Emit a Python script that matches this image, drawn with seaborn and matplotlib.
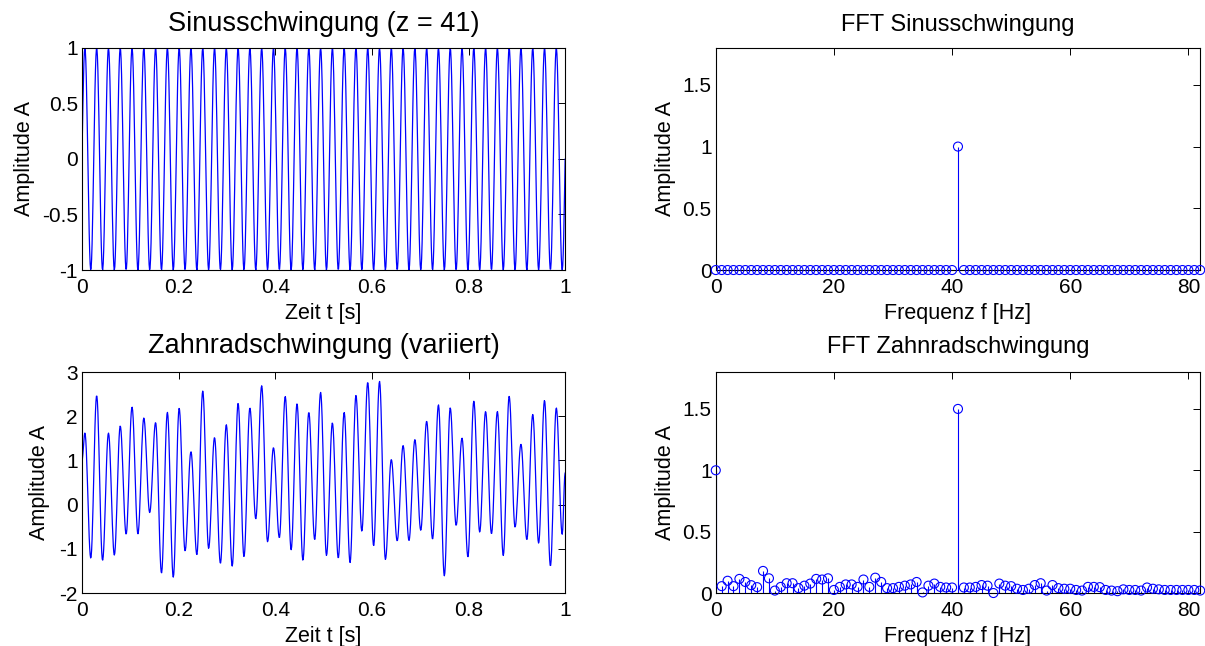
import numpy as np
import pandas as pd
import matplotlib
matplotlib.use("Agg")
import matplotlib.pyplot as plt
import seaborn as sns

# ---------------------------------------------------------------------------
# Signal data
# ---------------------------------------------------------------------------
SINE_FREQ = 41          # mesh frequency z [Hz]
SINE_AMP = 1.0

# Gear vibration: value at start/end and the extremes of every mesh cycle
GEAR_START = 1.0
GEAR_END = 0.72
GEAR_PEAKS = [1.62, 2.47, 1.62, 1.78, 2.21, 1.96, 1.86, 2.09, 2.18, 1.20,
              2.57, 1.52, 1.81, 2.29, 2.19, 2.69, 1.29, 2.45, 2.28, 2.09,
              2.54, 1.85, 2.09, 2.47, 2.77, 2.79, 1.02, 1.34, 1.47, 1.89,
              2.26, 2.19, 1.51, 2.34, 2.11, 2.11, 2.45, 1.37, 2.04, 2.36,
              2.19]
GEAR_TROUGHS = [-1.21, -1.26, -1.14, -0.67, -0.66, -0.18, -1.55, -1.64, -1.05, -1.13,
                -0.99, -1.33, -1.39, -1.18, -0.32, -0.84, -0.75, -1.02, -1.26, -0.79,
                -1.15, -1.21, -1.31, -0.60, -0.93, -1.24, -0.82, -0.81, -0.58, -0.78,
                -1.61, -0.47, -1.18, -0.62, -0.66, -1.15, -0.51, -0.79, -0.87, -1.39,
                -0.67]

# Single-sided amplitude spectra, 1 Hz resolution, 0 ... 82 Hz
FREQS = list(range(0, 83))
FFT_SINE = [0.0, 0.0, 0.0, 0.0, 0.0, 0.0, 0.0, 0.0, 0.0, 0.0,
            0.0, 0.0, 0.0, 0.0, 0.0, 0.0, 0.0, 0.0, 0.0, 0.0,
            0.0, 0.0, 0.0, 0.0, 0.0, 0.0, 0.0, 0.0, 0.0, 0.0,
            0.0, 0.0, 0.0, 0.0, 0.0, 0.0, 0.0, 0.0, 0.0, 0.0,
            0.0, 1.0, 0.0, 0.0, 0.0, 0.0, 0.0, 0.0, 0.0, 0.0,
            0.0, 0.0, 0.0, 0.0, 0.0, 0.0, 0.0, 0.0, 0.0, 0.0,
            0.0, 0.0, 0.0, 0.0, 0.0, 0.0, 0.0, 0.0, 0.0, 0.0,
            0.0, 0.0, 0.0, 0.0, 0.0, 0.0, 0.0, 0.0, 0.0, 0.0,
            0.0, 0.0, 0.0]
FFT_GEAR = [1.0, 0.056, 0.10, 0.056, 0.115, 0.09, 0.064, 0.048, 0.18, 0.12,
            0.02, 0.05, 0.08, 0.08, 0.04, 0.06, 0.077, 0.115, 0.11, 0.12,
            0.025, 0.05, 0.07, 0.07, 0.05, 0.11, 0.05, 0.125, 0.09, 0.04,
            0.04, 0.05, 0.06, 0.07, 0.09, 0.005, 0.06, 0.077, 0.05, 0.045,
            0.045, 1.5, 0.045, 0.045, 0.05, 0.065, 0.06, 0.0, 0.077, 0.06,
            0.056, 0.035, 0.025, 0.035, 0.065, 0.08, 0.02, 0.065, 0.04, 0.035,
            0.035, 0.025, 0.02, 0.05, 0.05, 0.048, 0.025, 0.02, 0.015, 0.03,
            0.025, 0.025, 0.02, 0.045, 0.035, 0.03, 0.025, 0.025, 0.025, 0.025,
            0.025, 0.025, 0.02]

# Axis ticks
TIME_TICKS = [0, 0.2, 0.4, 0.6, 0.8, 1]
TIME_LABELS = ["0", "0.2", "0.4", "0.6", "0.8", "1"]
SINE_YTICKS = [-1, -0.5, 0, 0.5, 1]
SINE_YLABELS = ["-1", "-0.5", "0", "0.5", "1"]
GEAR_YTICKS = [-2, -1, 0, 1, 2, 3]
GEAR_YLABELS = ["-2", "-1", "0", "1", "2", "3"]
FREQ_TICKS = [0, 20, 40, 60, 80]
FREQ_LABELS = ["0", "20", "40", "60", "80"]
AMP_TICKS = [0, 0.5, 1, 1.5]
AMP_LABELS = ["0", "0.5", "1", "1.5"]

# ---------------------------------------------------------------------------
# Time signals
# ---------------------------------------------------------------------------
t = np.linspace(0.0, 1.0, 1001)
sine = SINE_AMP * np.sin(2 * np.pi * SINE_FREQ * t)

# knots: start, peak/trough of every cycle, end; half-cosine between extremes
knot_t = [0.0]
knot_v = [GEAR_START]
for k, (p, q) in enumerate(zip(GEAR_PEAKS, GEAR_TROUGHS)):
    knot_t += [(k + 0.25) / SINE_FREQ, (k + 0.75) / SINE_FREQ]
    knot_v += [p, q]
knot_t.append(1.0)
knot_v.append(GEAR_END)
knot_t = np.array(knot_t)
knot_v = np.array(knot_v)
seg = np.clip(np.searchsorted(knot_t, t, side="right") - 1, 0, len(knot_t) - 2)
s = (t - knot_t[seg]) / (knot_t[seg + 1] - knot_t[seg])
gear = knot_v[seg] + (knot_v[seg + 1] - knot_v[seg]) * (1 - np.cos(np.pi * s)) / 2

df_sine = pd.DataFrame({"t": t, "A": sine})
df_gear = pd.DataFrame({"t": t, "A": gear})
df_fft = pd.DataFrame({"f": FREQS, "sine": FFT_SINE, "gear": FFT_GEAR})

# ---------------------------------------------------------------------------
# Figure
# ---------------------------------------------------------------------------
sns.set_theme(style="white")
plt.rcParams["font.family"] = ["Liberation Sans", "DejaVu Sans"]
plt.rcParams["axes.unicode_minus"] = False
plt.rcParams["text.color"] = "black"
plt.rcParams["axes.labelcolor"] = "black"
plt.rcParams["axes.titlecolor"] = "black"

BLUE = "#0000ff"
FS_TICK = 15
FS_LABEL = 15.5
FS_TITLE_L = 19.5
FS_TITLE_R = 17

fig = plt.figure(figsize=(12.05, 6.46), dpi=100)
ax_sine = fig.add_axes([0.068, 0.582, 0.401, 0.344])
ax_fsine = fig.add_axes([0.594, 0.582, 0.402, 0.344])
ax_gear = fig.add_axes([0.068, 0.082, 0.401, 0.342])
ax_fgear = fig.add_axes([0.594, 0.082, 0.402, 0.342])


def style_axes(ax, xticks, xlabels, yticks, ylabels):
    ax.set_xticks(xticks)
    ax.set_xticklabels(xlabels)
    ax.set_yticks(yticks)
    ax.set_yticklabels(ylabels)
    ax.tick_params(direction="in", top=True, right=True, length=5, width=0.7,
                   color="black", labelsize=FS_TICK, labelcolor="black")
    ax.tick_params(axis="x", pad=6)
    ax.tick_params(axis="y", pad=3)
    for sp in ax.spines.values():
        sp.set_color("black")
        sp.set_linewidth(0.8)
        sp.set_visible(True)
    ax.set_facecolor("white")


# Time plots
sns.lineplot(data=df_sine, x="t", y="A", ax=ax_sine, color=BLUE, lw=0.9,
             estimator=None, sort=False)
ax_sine.set_xlim(0, 1)
ax_sine.set_ylim(-1, 1)
style_axes(ax_sine, TIME_TICKS, TIME_LABELS, SINE_YTICKS, SINE_YLABELS)
ax_sine.set_title("Sinusschwingung (z = 41)", fontsize=FS_TITLE_L, pad=12)
ax_sine.set_xlabel("Zeit t [s]", fontsize=FS_LABEL, labelpad=4)
ax_sine.set_ylabel("Amplitude A", fontsize=FS_LABEL, labelpad=5)

sns.lineplot(data=df_gear, x="t", y="A", ax=ax_gear, color=BLUE, lw=0.9,
             estimator=None, sort=False)
ax_gear.set_xlim(0, 1)
ax_gear.set_ylim(-2, 3)
style_axes(ax_gear, TIME_TICKS, TIME_LABELS, GEAR_YTICKS, GEAR_YLABELS)
ax_gear.set_title("Zahnradschwingung (variiert)", fontsize=FS_TITLE_L, pad=13.5)
ax_gear.set_xlabel("Zeit t [s]", fontsize=FS_LABEL, labelpad=4)
ax_gear.set_ylabel("Amplitude A", fontsize=FS_LABEL, labelpad=7)


# Spectra as stem plots
def stem(ax, col):
    ax.vlines(df_fft["f"], 0, df_fft[col], color=BLUE, lw=0.8, zorder=2)
    sns.scatterplot(data=df_fft, x="f", y=col, ax=ax, marker="o", s=42,
                    facecolor="none", edgecolor=BLUE, linewidth=0.8,
                    zorder=3, clip_on=False, legend=False)


stem(ax_fsine, "sine")
ax_fsine.set_xlim(0, 82)
ax_fsine.set_ylim(0, 1.8)
style_axes(ax_fsine, FREQ_TICKS, FREQ_LABELS, AMP_TICKS, AMP_LABELS)
ax_fsine.set_title("FFT Sinusschwingung", fontsize=FS_TITLE_R, pad=12)
ax_fsine.set_xlabel("Frequenz f [Hz]", fontsize=FS_LABEL, labelpad=4)
ax_fsine.set_ylabel("Amplitude A", fontsize=FS_LABEL, labelpad=5)

stem(ax_fgear, "gear")
ax_fgear.set_xlim(0, 82)
ax_fgear.set_ylim(0, 1.8)
style_axes(ax_fgear, FREQ_TICKS, FREQ_LABELS, AMP_TICKS, AMP_LABELS)
ax_fgear.set_title("FFT Zahnradschwingung", fontsize=FS_TITLE_R, pad=13.5)
ax_fgear.set_xlabel("Frequenz f [Hz]", fontsize=FS_LABEL, labelpad=4)
ax_fgear.set_ylabel("Amplitude A", fontsize=FS_LABEL, labelpad=5)

fig.savefig("out.png", dpi=100, facecolor="white")
